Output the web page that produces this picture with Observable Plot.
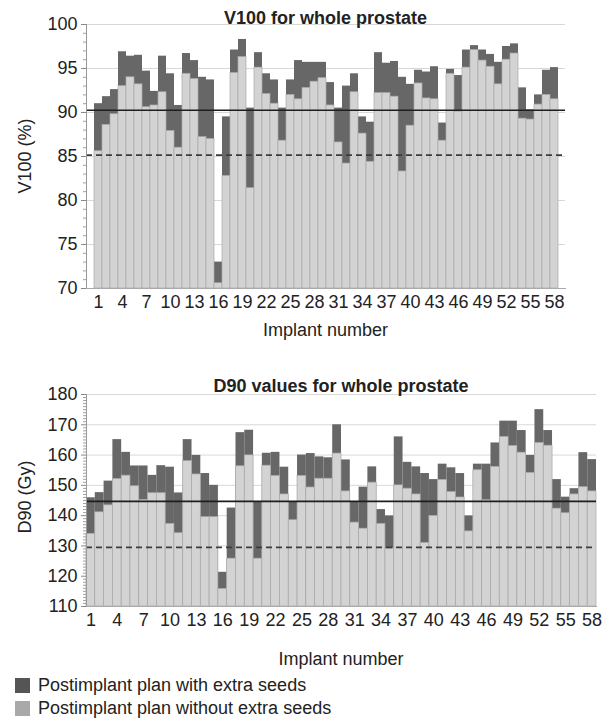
<!DOCTYPE html>
<html><head><meta charset="utf-8">
<script src="https://cdn.jsdelivr.net/npm/d3@7"></script>
<script src="https://cdn.jsdelivr.net/npm/@observablehq/plot@0.6"></script>
<style>
body{margin:0;background:#fff;font-family:"Liberation Sans",Arial,sans-serif;color:#222;}
#wrap{position:relative;width:612px;height:724px;overflow:hidden;}
.abs{position:absolute;white-space:nowrap;font-size:18px;line-height:18px;}
.title{font-weight:bold;text-align:center;}
.ctr{text-align:center;}
.rot{transform:translate(-50%,-50%) rotate(-90deg);}
.sw{position:absolute;width:15px;height:15px;}
svg{position:absolute;left:0;}
</style></head><body><div id="wrap"></div>
<script>
const implant = [1,2,3,4,5,6,7,8,9,10,11,12,13,14,15,16,17,18,19,20,21,22,23,24,25,26,27,28,29,30,31,32,33,34,35,36,37,38,39,40,41,42,43,44,45,46,47,48,49,50,51,52,53,54,55,56,57,58];
const xTickLabels = [1,4,7,10,13,16,19,22,25,28,31,34,37,40,43,46,49,52,55,58];

const v100With = [91.0,91.8,92.6,96.9,96.4,96.5,94.7,92.4,96.4,94.4,90.8,96.7,95.9,94.0,93.7,73.0,89.5,97.1,98.3,90.5,96.8,94.4,93.7,90.5,93.7,95.9,95.7,95.7,95.7,93.4,90.5,93.0,94.4,89.5,88.9,96.8,95.6,95.8,94.0,93.2,94.8,94.6,95.2,88.8,94.9,94.2,97.1,97.6,97.1,96.6,95.7,97.5,97.8,92.8,90.3,92.0,94.8,95.1];
const v100Without = [85.6,88.6,89.8,93.0,94.0,93.2,90.6,90.8,92.3,87.9,86.0,94.4,93.8,87.2,87.0,70.6,82.8,94.5,96.3,81.4,95.1,92.1,91.0,86.8,92.0,91.5,92.8,93.5,93.9,90.8,86.6,84.2,92.3,87.6,84.4,92.2,92.2,91.8,83.3,88.5,93.3,91.6,91.5,86.8,94.4,90.1,95.1,97.1,95.9,95.2,93.2,96.0,96.7,89.3,89.2,90.9,92.0,91.5];
const v100Mean = [90.25];
const v100Limit = [85.15];
const v100Ticks = [70,75,80,85,90,95,100];
const v100Minor = [71,72,73,74,76,77,78,79,81,82,83,84,86,87,88,89,91,92,93,94,96,97,98,99];

const d90With = [145.9,147.6,151.4,165.1,160.9,156.4,156.4,153.3,156.5,156.0,147.5,165.1,159.9,153.9,150.0,121.3,142.5,167.4,168.2,144.5,160.6,160.9,156.0,144.5,160.0,160.5,159.4,159.1,170.0,158.4,144.4,149.4,156.1,142.0,139.9,166.0,157.6,156.1,153.9,151.9,157.0,155.8,153.9,139.9,157.0,157.0,164.0,171.2,171.2,168.1,159.9,175.0,168.1,151.9,146.1,148.9,160.8,158.5];
const d90Without = [134.0,141.1,143.4,152.1,153.2,149.7,145.2,147.4,147.4,137.3,134.2,158.0,153.6,139.5,139.5,115.8,125.8,156.3,159.9,125.8,156.5,153.1,147.0,138.5,153.1,149.3,152.2,152.2,160.5,148.0,137.7,135.7,150.9,137.3,129.1,150.0,148.9,147.0,131.0,139.9,151.8,147.8,146.0,134.8,155.0,145.1,156.1,166.0,163.0,160.8,154.1,164.0,163.1,142.3,140.8,147.0,149.4,148.0];
const d90Mean = [144.7];
const d90Limit = [129.5];
const d90Ticks = [110,120,130,140,150,160,170,180];
const d90Minor = [111,112,113,114,115,116,117,118,119,121,122,123,124,125,126,127,128,129,131,132,133,134,135,136,137,138,139,141,142,143,144,145,146,147,148,149,151,152,153,154,155,156,157,158,159,161,162,163,164,165,166,167,168,169,171,172,173,174,175,176,177,178,179];

const titles = ["V100 for whole prostate", "D90 values for whole prostate"];
const yLabels = ["V100 (%)", "D90 (Gy)"];
const xLabel = "Implant number";
const legendLabels = ["Postimplant plan with extra seeds", "Postimplant plan without extra seeds"];

const DARK = "#676767", LIGHT = "#d3d3d3", SEP = "#a8a8a8";
const wrap = document.getElementById("wrap");

function panel(withV, withoutV, yDomain, ticks, minor, meanV, limitV, opts) {
  const rows = implant.map((d, i) => ({implant: d, withSeeds: withV[i], withoutSeeds: withoutV[i]}));
  const base = yDomain[0];
  return Plot.plot({
    width: 612, height: opts.height,
    marginLeft: 86, marginRight: opts.marginRight, marginTop: opts.marginTop, marginBottom: opts.marginBottom,
    style: {fontFamily: '"Liberation Sans", Arial, sans-serif', fontSize: "18px", color: "#222", background: "transparent", overflow: "visible"},
    x: {type: "band", domain: implant, padding: 0, label: null},
    y: {domain: yDomain, label: null},
    marks: [
      Plot.gridY({ticks: ticks, stroke: "#d8d8d8", strokeOpacity: 1, strokeWidth: 1}),
      Plot.barY(rows, {x: "implant", y1: base, y2: "withSeeds", fill: DARK, inset: 0}),
      Plot.barY(rows, {x: "implant", y1: base, y2: "withoutSeeds", fill: LIGHT, stroke: SEP, strokeWidth: 0.7, inset: 0}),
      Plot.ruleY(meanV, {stroke: "#1e1e1e", strokeWidth: 1.6}),
      Plot.ruleY(limitV, {stroke: "#3c3c3c", strokeWidth: 1.7, strokeDasharray: "6,4"}),
      Plot.axisY({ticks: minor, tickSize: 3, tickFormat: () => "", stroke: "#a0a0a0", label: null}),
      Plot.axisY({ticks: ticks, tickSize: 5, tickPadding: 4, stroke: "#888", label: null}),
      Plot.axisX({ticks: xTickLabels, tickSize: 0, tickPadding: 7, label: null}),
      Plot.frame({anchor: "left", stroke: "#999"}),
      Plot.frame({anchor: "bottom", stroke: "#aaa"})
    ]
  });
}

const topChart = panel(v100With, v100Without, [70, 100], v100Ticks, v100Minor, v100Mean, v100Limit,
  {height: 345, marginRight: 47, marginTop: 24, marginBottom: 57});
topChart.style.top = "0px";
wrap.appendChild(topChart);

const botChart = panel(d90With, d90Without, [110, 180], d90Ticks, d90Minor, d90Mean, d90Limit,
  {height: 290, marginRight: 16, marginTop: 49, marginBottom: 29});
botChart.style.top = "345px";
wrap.appendChild(botChart);

function addText(txt, cls, css) {
  const el = document.createElement("div");
  el.className = "abs " + cls;
  el.textContent = txt;
  Object.assign(el.style, css);
  wrap.appendChild(el);
  return el;
}
addText(titles[0], "title", {left: "86px", width: "479px", top: "9px"});
addText(titles[1], "title", {left: "86px", width: "510px", top: "377px"});
addText(yLabels[0], "rot", {left: "25px", top: "156px"});
addText(yLabels[1], "rot", {left: "25px", top: "497px"});
addText(xLabel, "ctr", {left: "86px", width: "479px", top: "321px"});
addText(xLabel, "ctr", {left: "86px", width: "510px", top: "650px"});

const legendColors = ["#555555", "#a9a9a9"];
legendLabels.forEach((lab, i) => {
  const cy = 685 + i * 23;
  const sw = document.createElement("div");
  sw.className = "sw";
  Object.assign(sw.style, {left: "15px", top: (cy - 7.5) + "px", background: legendColors[i]});
  wrap.appendChild(sw);
  addText(lab, "", {left: "38px", top: (cy - 9) + "px"});
});
</script>
</body></html>
